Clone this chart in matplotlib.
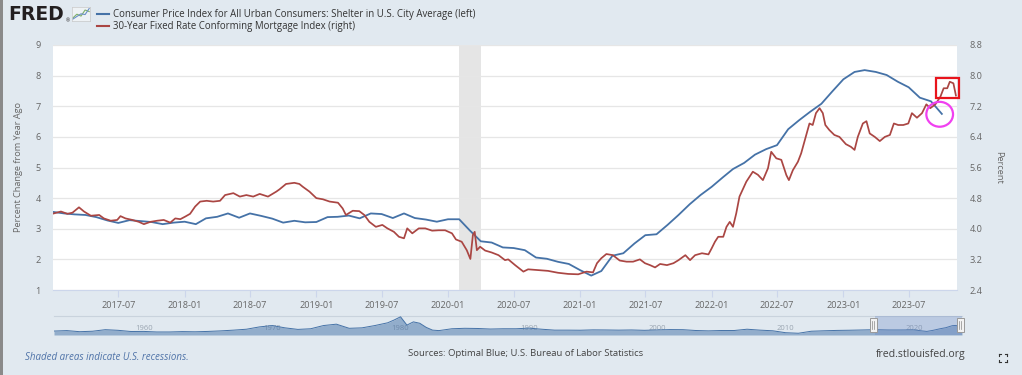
import numpy as np
import pandas as pd
import matplotlib
matplotlib.use("Agg")
import matplotlib.pyplot as plt
import matplotlib.dates as mdates
from matplotlib.lines import Line2D
from matplotlib.patches import Rectangle, Ellipse

# --- data -----------------------------------------------------------------
# CPI Shelter, percent change from year ago (monthly, left axis)
cpi_start = "2017-01-01"
cpi_vals = [
    3.55, 3.50, 3.47, 3.45, 3.38, 3.27, 3.19, 3.28, 3.25, 3.22, 3.15, 3.20,
    3.23, 3.15, 3.34, 3.39, 3.50, 3.36, 3.50, 3.42, 3.33, 3.20, 3.26, 3.21,
    3.22, 3.38, 3.39, 3.43, 3.34, 3.50, 3.48, 3.35, 3.50, 3.35, 3.30, 3.23,
    3.31, 3.31, 2.95, 2.59, 2.55, 2.39, 2.37, 2.30, 2.06, 2.02, 1.92, 1.85,
    1.65, 1.47, 1.62, 2.12, 2.20, 2.52, 2.79, 2.82, 3.13, 3.45, 3.80, 4.10,
    4.37, 4.68, 4.95, 5.15, 5.42, 5.60, 5.73, 6.25, 6.55, 6.82, 7.08, 7.48,
    7.88, 8.12, 8.18, 8.12, 8.02, 7.80, 7.62, 7.28, 7.16, 6.75,
]

# 30-Year Fixed Rate Conforming Mortgage Index (right axis)
mort_dates = [
    "2017-01-03", "2017-01-23", "2017-02-10", "2017-02-24", "2017-03-14", "2017-03-28",
    "2017-04-16", "2017-05-09", "2017-05-22", "2017-06-10", "2017-06-28", "2017-07-07",
    "2017-07-21", "2017-08-09", "2017-08-27", "2017-09-10", "2017-09-28", "2017-10-17",
    "2017-11-04", "2017-11-22", "2017-12-06", "2017-12-20", "2018-01-03", "2018-01-16",
    "2018-01-30", "2018-02-13", "2018-03-03", "2018-03-21", "2018-04-09", "2018-04-23",
    "2018-05-16", "2018-06-03", "2018-06-21", "2018-07-10", "2018-07-28", "2018-08-20",
    "2018-09-12", "2018-09-21", "2018-10-09", "2018-11-01", "2018-11-15", "2018-11-24",
    "2018-12-13", "2019-01-01", "2019-01-19", "2019-02-07", "2019-03-02", "2019-03-15",
    "2019-03-24", "2019-04-12", "2019-04-30", "2019-05-14", "2019-05-28", "2019-06-15",
    "2019-07-03", "2019-07-17", "2019-08-04", "2019-08-18", "2019-09-01", "2019-09-10",
    "2019-09-24", "2019-10-12", "2019-10-30", "2019-11-18", "2019-12-06", "2019-12-24",
    "2020-01-12", "2020-01-23", "2020-02-08", "2020-02-22", "2020-03-03", "2020-03-10",
    "2020-03-15", "2020-03-21", "2020-03-30", "2020-04-13", "2020-05-01", "2020-05-20",
    "2020-06-07", "2020-06-16", "2020-07-05", "2020-07-28", "2020-08-10", "2020-09-07",
    "2020-10-04", "2020-11-01", "2020-11-29", "2020-12-27", "2021-01-19", "2021-02-06",
    "2021-02-17", "2021-03-01", "2021-03-15", "2021-04-02", "2021-04-21", "2021-05-10",
    "2021-05-28", "2021-06-16", "2021-06-30", "2021-07-14", "2021-07-28", "2021-08-11",
    "2021-08-30", "2021-09-17", "2021-10-01", "2021-10-20", "2021-11-02", "2021-11-16",
    "2021-12-05", "2021-12-23", "2022-01-01", "2022-01-10", "2022-01-19", "2022-02-02",
    "2022-02-11", "2022-02-20", "2022-03-01", "2022-03-10", "2022-03-19", "2022-04-07",
    "2022-04-25", "2022-05-09", "2022-05-23", "2022-06-06", "2022-06-15", "2022-06-29",
    "2022-07-13", "2022-07-27", "2022-08-03", "2022-08-14", "2022-08-28", "2022-09-06",
    "2022-09-20", "2022-09-29", "2022-10-08", "2022-10-17", "2022-10-27", "2022-11-05",
    "2022-11-12", "2022-11-23", "2022-12-07", "2022-12-21", "2023-01-08", "2023-01-22",
    "2023-02-01", "2023-02-10", "2023-02-24", "2023-03-06", "2023-03-15", "2023-03-29",
    "2023-04-12", "2023-04-26", "2023-05-10", "2023-05-21", "2023-06-02", "2023-06-16",
    "2023-06-30", "2023-07-10", "2023-07-24", "2023-08-07", "2023-08-19", "2023-08-30",
    "2023-09-13", "2023-09-27", "2023-10-06", "2023-10-16", "2023-10-23", "2023-11-02",
    "2023-11-09",
]
mort_vals = [
    4.40, 4.45, 4.39, 4.42, 4.56, 4.45, 4.34, 4.36, 4.27, 4.21, 4.23, 4.33,
    4.27, 4.23, 4.18, 4.12, 4.18, 4.21, 4.23, 4.16, 4.27, 4.25, 4.32, 4.39,
    4.58, 4.71, 4.73, 4.71, 4.73, 4.88, 4.93, 4.84, 4.88, 4.84, 4.91, 4.84,
    4.97, 5.03, 5.17, 5.20, 5.17, 5.10, 4.97, 4.80, 4.77, 4.71, 4.68, 4.53,
    4.36, 4.47, 4.46, 4.36, 4.18, 4.05, 4.10, 4.01, 3.92, 3.79, 3.75, 4.01,
    3.88, 4.01, 4.01, 3.95, 3.96, 3.96, 3.88, 3.72, 3.66, 3.44, 3.21, 3.84,
    3.92, 3.44, 3.53, 3.43, 3.38, 3.31, 3.18, 3.20, 3.05, 2.88, 2.94, 2.92,
    2.90, 2.85, 2.82, 2.81, 2.88, 2.86, 3.10, 3.23, 3.34, 3.31, 3.17, 3.14,
    3.14, 3.20, 3.10, 3.05, 2.99, 3.08, 3.05, 3.10, 3.18, 3.31, 3.18, 3.31,
    3.36, 3.33, 3.49, 3.66, 3.79, 3.79, 4.05, 4.18, 4.05, 4.40, 4.84, 5.23,
    5.49, 5.41, 5.27, 5.58, 6.01, 5.84, 5.80, 5.40, 5.27, 5.53, 5.75, 5.97,
    6.45, 6.75, 6.71, 7.02, 7.15, 7.02, 6.71, 6.58, 6.45, 6.40, 6.21, 6.14,
    6.06, 6.40, 6.75, 6.81, 6.49, 6.40, 6.29, 6.40, 6.45, 6.75, 6.71, 6.71,
    6.75, 7.02, 6.90, 7.02, 7.25, 7.15, 7.25, 7.45, 7.67, 7.67, 7.84, 7.80,
    7.48,
]

# navigator: long history of the shelter series
nav_dates = [
    "1953-01", "1954-01", "1955-01", "1956-01", "1957-01", "1958-01", "1959-01",
    "1960-01", "1961-01", "1962-01", "1963-01", "1964-01", "1965-01", "1966-01",
    "1967-01", "1968-01", "1969-01", "1970-01", "1971-01", "1972-01", "1973-01",
    "1974-01", "1975-01", "1976-01", "1977-01", "1978-01", "1979-01", "1979-07",
    "1980-01", "1980-07", "1981-01", "1981-07", "1982-01", "1982-07", "1983-01",
    "1984-01", "1985-01", "1986-01", "1987-01", "1988-01", "1989-01", "1990-01",
    "1991-01", "1992-01", "1993-01", "1994-01", "1995-01", "1996-01", "1997-01",
    "1998-01", "1999-01", "2000-01", "2001-01", "2002-01", "2003-01", "2004-01",
    "2005-01", "2006-01", "2007-01", "2008-01", "2009-01", "2010-01", "2011-01",
    "2012-01", "2013-01", "2014-01", "2015-01", "2016-01", "2017-01", "2018-01",
    "2019-01", "2020-01", "2020-07", "2021-01", "2021-07", "2022-01", "2022-07",
    "2023-01", "2023-04", "2023-10",
]
nav_vals = [
    2.0, 2.5, 1.3, 1.8, 3.5, 2.8, 1.5,
    1.6, 1.0, 1.0, 1.4, 1.2, 1.6, 2.2,
    3.0, 4.0, 6.5, 8.0, 5.5, 3.8, 4.5,
    8.0, 9.5, 5.0, 5.5, 8.0, 11.0, 14.0,
    17.5, 8.5, 12.0, 10.5, 6.0, 3.0, 2.5,
    4.5, 5.0, 4.8, 4.2, 4.5, 4.5, 5.2,
    4.0, 3.0, 3.0, 2.9, 3.3, 3.2, 3.0,
    3.2, 2.8, 3.2, 3.6, 3.5, 2.6, 2.2,
    2.6, 2.6, 4.0, 3.0, 2.3, 0.2, -0.4,
    1.8, 2.3, 2.7, 2.9, 3.2, 3.5, 3.2,
    3.2, 3.3, 2.4, 1.6, 2.8, 4.4, 5.7,
    7.9, 8.1, 6.7,
]

recession = ("2020-02-01", "2020-04-01")
x_ticks = pd.date_range("2017-07-01", "2023-07-01", freq="6MS")
left_ticks = list(range(1, 10))
right_ticks = [2.4, 3.2, 4.0, 4.8, 5.6, 6.4, 7.2, 8.0, 8.8]

# hand-drawn highlights on the original screenshot
box_dates = ("2023-09-16", "2023-11-18")
box_vals = (7.41, 7.95)
circle_date, circle_val = "2023-09-25", 6.99

# --- style ----------------------------------------------------------------
W, H = 1022, 375
BG = "#e1e9f0"
BLUE = "#4572a7"
RED = "#aa4643"
GRID = "#e6e6e6"
TXT = "#666666"
plt.rcParams["font.family"] = ["Open Sans", "DejaVu Sans"]


def box(x0, y0, x1, y1):
    # pixel box -> figure fraction
    return [x0 / W, 1 - y1 / H, (x1 - x0) / W, (y1 - y0) / H]


fig = plt.figure(figsize=(W / 100, H / 100), dpi=100, facecolor=BG)
fig.add_artist(Rectangle((0, 0), 3 / W, 1, transform=fig.transFigure,
                         color="#8a8a8a", lw=0))

# --- main chart -----------------------------------------------------------
ax = fig.add_axes(box(53, 45, 957, 290))
ax.set_facecolor("white")
cpi_dates = pd.date_range(cpi_start, periods=len(cpi_vals), freq="MS")
mort_dt = pd.to_datetime(mort_dates)

ax.axvspan(pd.Timestamp(recession[0]), pd.Timestamp(recession[1]),
           color="#e5e5e5", lw=0, zorder=0)
ax.plot(cpi_dates, cpi_vals, color=BLUE, lw=1.3, zorder=3)
ax.set_ylim(1, 9)
ax.set_yticks(left_ticks)
ax.grid(axis="y", color=GRID, lw=0.9, zorder=1)
ax.set_xlim(pd.Timestamp("2017-01-01"), pd.Timestamp("2023-11-12"))
ax.set_xticks(x_ticks)
ax.xaxis.set_major_formatter(mdates.DateFormatter("%Y-%m"))
for s in ["top", "left", "right"]:
    ax.spines[s].set_visible(False)
ax.spines["bottom"].set_color("#ccd6eb")
ax.tick_params(axis="x", colors="#ccd6eb", labelcolor=TXT, labelsize=6.6,
               length=5, width=0.8, pad=3)
ax.tick_params(axis="y", length=0, labelcolor=TXT, labelsize=6.6, pad=9)

ax2 = ax.twinx()
ax2.plot(mort_dt, mort_vals, color=RED, lw=1.25, zorder=3)
ax2.set_ylim(2.4, 8.8)
ax2.set_yticks(right_ticks)
ax2.set_yticklabels([f"{v:.1f}" for v in right_ticks])
ax2.tick_params(axis="y", length=0, labelcolor=TXT, labelsize=6.6, pad=9)
for s in ax2.spines.values():
    s.set_visible(False)

# highlights
b0, b1 = mdates.date2num(pd.Timestamp(box_dates[0])), mdates.date2num(pd.Timestamp(box_dates[1]))
ax2.add_patch(Rectangle((b0, box_vals[0]), b1 - b0, box_vals[1] - box_vals[0],
                        fill=False, ec="#e8141c", lw=1.6, clip_on=False, zorder=6))
ax2.add_patch(Ellipse((mdates.date2num(pd.Timestamp(circle_date)), circle_val),
                      74, 0.65, fill=False, ec="#f040f0", lw=1.6,
                      clip_on=False, zorder=6))

fig.text(19 / W, 1 - 167 / H, "Percent Change from Year Ago", rotation=90,
         ha="center", va="center", color=TXT, fontsize=6.6)
fig.text(999 / W, 1 - 167 / H, "Percent", rotation=270,
         ha="center", va="center", color=TXT, fontsize=6.6)

# --- header: logo + legend ------------------------------------------------
fig.text(8 / W, 1 - 14 / H, "FRED", fontsize=13.5, fontweight="bold",
         family="DejaVu Sans", color="#231f20", va="center")
fig.text(66 / W, 1 - 21 / H, "®", fontsize=3.5, color="#231f20", va="center")
ico = fig.add_axes(box(72, 7, 90, 21))
ico.set_facecolor("#eef2f5")
ico.plot([0, 1, 2, 3, 4], [0.5, 1.5, 1.0, 2.6, 2.2], color="#7fb069", lw=0.8)
ico.plot([0, 1, 2, 3, 4], [0.2, 0.9, 1.6, 1.4, 3.0], color="#6a8fc7", lw=0.8)
ico.set_xlim(-0.2, 4.2)
ico.set_ylim(-0.3, 3.4)
ico.set_xticks([])
ico.set_yticks([])
for s in ico.spines.values():
    s.set_color("#c8c8c8")
    s.set_linewidth(0.5)

legend_items = [
    (BLUE, "Consumer Price Index for All Urban Consumers: Shelter in U.S. City Average (left)"),
    (RED, "30-Year Fixed Rate Conforming Mortgage Index (right)"),
]
for i, (c, lab) in enumerate(legend_items):
    yy = 1 - (14 + 12 * i) / H
    fig.add_artist(Line2D([97 / W, 109 / W], [yy, yy], color=c, lw=1.5,
                          transform=fig.transFigure))
    fig.text(113 / W, yy, lab, fontsize=6.9, color="#333333", va="center")

# --- navigator ------------------------------------------------------------
nav = fig.add_axes(box(54, 316, 962, 335))
nav.set_facecolor(BG)
nd = pd.to_datetime(nav_dates)
nav.fill_between(nd, nav_vals, -2.3, color=BLUE, alpha=0.5, lw=0, zorder=2)
nav.plot(nd, nav_vals, color=BLUE, lw=0.7, zorder=3)
nav.set_xlim(pd.Timestamp("1953-01-01"), pd.Timestamp("2023-10-01"))
nav.set_ylim(-2.3, 18.4)
nav.axvspan(pd.Timestamp("2017-01-01"), pd.Timestamp("2023-10-01"),
            color="#6685c2", alpha=0.3, lw=0, zorder=4)
for yr in range(1960, 2030, 10):
    nav.text(pd.Timestamp(f"{yr}-01-01"), 4.5, str(yr), fontsize=5.5,
             color="#9aa5b1", ha="center", va="center", zorder=1)
nav.set_xticks([])
nav.set_yticks([])
for s in ["left", "right", "bottom"]:
    nav.spines[s].set_visible(False)
nav.spines["top"].set_color("#c9d3dd")
nav.spines["top"].set_linewidth(0.8)
for hx in [873, 960]:
    fig.add_artist(Rectangle(((hx - 3.5) / W, 1 - 332 / H), 7 / W, 14 / H,
                             transform=fig.transFigure, fc="#f2f2f2",
                             ec="#999999", lw=0.7, zorder=5))
    for dx in (-1, 1):
        fig.add_artist(Line2D([(hx + dx) / W] * 2, [1 - 321 / H, 1 - 329 / H],
                              color="#888888", lw=0.5,
                              transform=fig.transFigure, zorder=6))

# --- footer ---------------------------------------------------------------
fig.text(25 / W, 1 - 357 / H, "Shaded areas indicate U.S. recessions.",
         fontsize=7.0, style="italic", color="#4f73a8", va="center")
fig.text(408 / W, 1 - 354 / H, "Sources: Optimal Blue; U.S. Bureau of Labor Statistics",
         fontsize=6.8, color="#444444", va="center")
fig.text(876 / W, 1 - 354 / H, "fred.stlouisfed.org",
         fontsize=7.6, color="#444444", va="center")
# fullscreen icon
cx, cy, r, k = 1003, 358, 4, 2
for sx in (-1, 1):
    for sy in (-1, 1):
        x0, y0 = cx + sx * r, cy + sy * r
        fig.add_artist(Line2D([x0 / W, (x0 - sx * k) / W], [1 - y0 / H, 1 - y0 / H],
                              color="#333333", lw=0.8, transform=fig.transFigure))
        fig.add_artist(Line2D([x0 / W, x0 / W], [1 - y0 / H, 1 - (y0 - sy * k) / H],
                              color="#333333", lw=0.8, transform=fig.transFigure))

fig.savefig("out.png", dpi=100, facecolor=BG)
